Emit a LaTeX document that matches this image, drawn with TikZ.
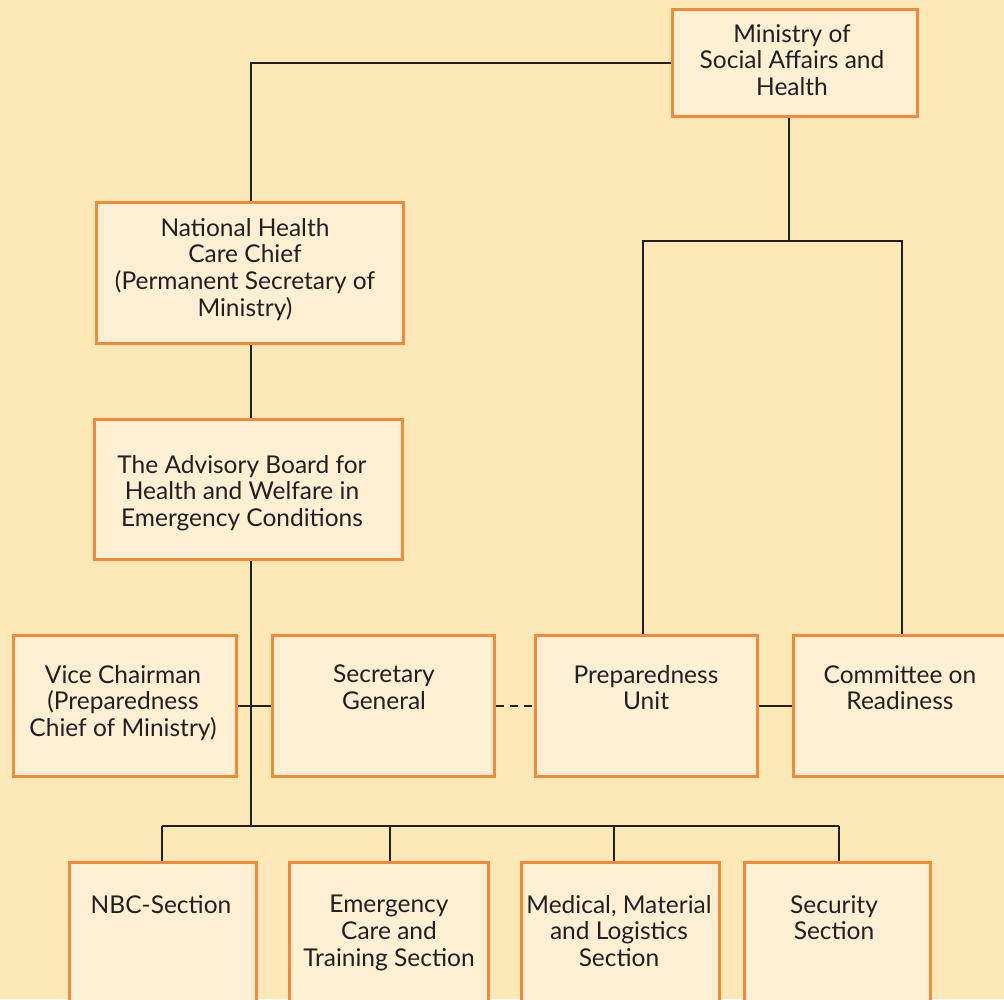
\documentclass[tikz,border=0pt]{standalone}
\usepackage{fontspec}
\setmainfont{Lato}
\usetikzlibrary{calc}
\definecolor{bg}{HTML}{FDE9B8}
\definecolor{boxfill}{HTML}{FFF0D3}
\definecolor{boxline}{HTML}{F6883A}
\definecolor{ink}{HTML}{231F20}
\begin{document}
\begin{tikzpicture}[x=1pt,y=-1pt,
  box/.style={draw=boxline, line width=2.6pt, fill=boxfill, inner sep=0pt, anchor=north west},
  lbl/.style={anchor=north, inner sep=0pt, align=center, text=ink, font=\fontsize{24.5}{26.7}\selectfont},
  con/.style={draw=ink, line width=2.6pt}]
\fill[bg] (0,0) rectangle (1004,999);
\useasboundingbox (0,0) rectangle (1004,999);
% boxes
\node[box, minimum width=245pt, minimum height=107pt] (min) at (671,8) {};
\node[box, minimum width=307pt, minimum height=141pt] (nhc) at (95,201) {};
\node[box, minimum width=308pt, minimum height=140pt] (adv) at (93,418) {};
\node[box, minimum width=223pt, minimum height=141pt] (vice) at (12,634) {};
\node[box, minimum width=222pt, minimum height=141pt] (sg) at (271,634) {};
\node[box, minimum width=222pt, minimum height=141pt] (pu) at (534,634) {};
\node[box, minimum width=220pt, minimum height=141pt] (cr) at (792,634) {};
\node[box, minimum width=187pt, minimum height=150pt] (nbc) at (68,861) {};
\node[box, minimum width=199pt, minimum height=150pt] (ecs) at (288,861) {};
\node[box, minimum width=198pt, minimum height=150pt] (mml) at (520,861) {};
\node[box, minimum width=186pt, minimum height=150pt] (sec) at (743,861) {};
% labels
\node[lbl] (mint) at (792,24) {Ministry of\\Social Affairs and\\Health};
\node[lbl] (nhct) at (245,218) {National Health\\Care Chief\\(Permanent Secretary of\\Ministry)};
\node[lbl] (advt) at (242,455) {The Advisory Board for\\Health and Welfare in\\Emergency Conditions};
\node[lbl] (vicet) at (123,665) {Vice Chairman\\(Preparedness\\Chief of Ministry)};
\node[lbl] (sgt) at (384,665) {Secretary\\General};
\node[lbl] (put) at (646,665) {Preparedness\\Unit};
\node[lbl] (crt) at (900,665) {Committee on\\Readiness};
\node[lbl] (nbct) at (161,895) {NBC-Section};
\node[lbl] (ecst) at (389,895) {Emergency\\Care and\\Training Section};
\node[lbl] (mmlt) at (619,895) {Medical, Material\\and Logistics\\Section};
\node[lbl] (sect) at (834,895) {Security\\Section};
% connectors
\coordinate (spine) at (251,0);
\coordinate (mj) at (789,241);
\coordinate (pux) at (643,241);
\coordinate (crx) at (902,241);
\coordinate (busc) at (251,826);
\coordinate (b1) at (162,826);
\coordinate (b2) at (390,826);
\coordinate (b3) at (614,826);
\coordinate (b4) at (839,826);
\draw[con] (min.west) -| (spine |- nhc.north);
\draw[con] (spine |- nhc.south) -- (spine |- adv.north);
\draw[con] (spine |- adv.south) -- (busc);
\draw[con] (vice.east) -- (sg.west);
\draw[con, dash pattern=on 8pt off 6pt] (sg.east) -- (pu.west);
\draw[con] (pu.east) -- (cr.west);
\draw[con] (mj |- min.south) -- (mj);
\draw[con] (pux |- pu.north) -- (pux) -- (crx) -- (crx |- cr.north);
\draw[con] (b1) -- (b4);
\draw[con] (b1) -- (b1 |- nbc.north);
\draw[con] (b2) -- (b2 |- ecs.north);
\draw[con] (b3) -- (b3 |- mml.north);
\draw[con] (b4) -- (b4 |- sec.north);
\end{tikzpicture}
\end{document}
